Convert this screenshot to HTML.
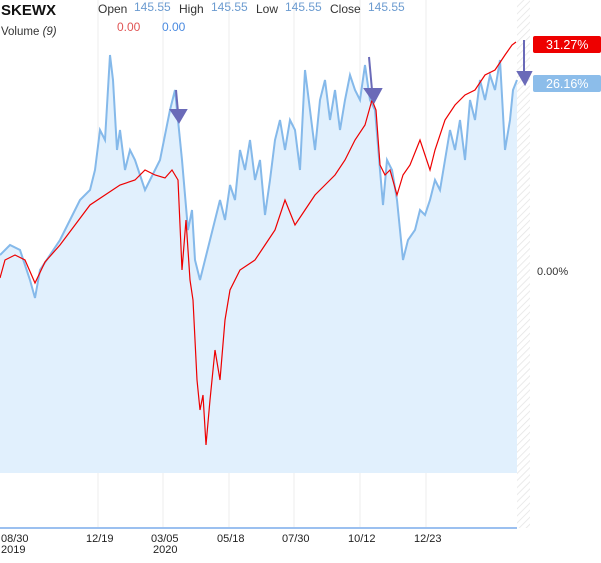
<!DOCTYPE html><html><head><style>body{margin:0;background:#fff;width:601px;height:558px;overflow:hidden;font-family:"Liberation Sans",sans-serif}</style></head><body>
<svg width="601" height="558" xmlns="http://www.w3.org/2000/svg" font-family="Liberation Sans, sans-serif">
<defs><pattern id="h" width="5" height="5" patternUnits="userSpaceOnUse" patternTransform="rotate(45)"><line x1="0" y1="0" x2="0" y2="5" stroke="#e4e4e4" stroke-width="1.5"/></pattern></defs>
<rect x="517" y="0" width="13" height="528" fill="url(#h)"/>
<g stroke="#eeeeee" stroke-width="1"><line x1="98" y1="0" x2="98" y2="528"/><line x1="163" y1="0" x2="163" y2="528"/><line x1="229" y1="0" x2="229" y2="528"/><line x1="294" y1="0" x2="294" y2="528"/><line x1="360" y1="0" x2="360" y2="528"/><line x1="426" y1="0" x2="426" y2="528"/></g>
<polygon fill="#e1f0fd" points="0,473 0,255 10,245 20,250 30,280 35,298 40,270 50,255 60,240 70,220 80,200 90,190 95,170 100,130 105,140 110,55 113,80 117,150 120,130 125,170 130,150 135,160 140,175 145,190 150,180 160,160 170,110 175,90 178,120 182,160 188,230 192,210 195,260 200,280 205,260 210,240 215,220 220,200 225,220 230,185 235,200 240,150 245,170 250,140 255,180 260,160 265,215 270,180 275,140 280,120 285,150 290,120 295,130 300,170 305,70 310,110 315,150 320,100 325,80 330,120 335,90 340,130 345,100 350,75 355,90 360,100 365,65 370,100 375,110 380,170 383,205 387,160 392,170 397,200 400,230 403,260 408,240 415,230 420,210 425,215 430,200 435,180 440,190 445,160 450,130 455,150 460,120 465,160 470,100 475,120 480,80 485,100 490,75 495,90 500,60 505,150 510,120 513,90 517,80 517,473"/>
<polyline fill="none" stroke="#85b9ea" stroke-width="2" points="0,255 10,245 20,250 30,280 35,298 40,270 50,255 60,240 70,220 80,200 90,190 95,170 100,130 105,140 110,55 113,80 117,150 120,130 125,170 130,150 135,160 140,175 145,190 150,180 160,160 170,110 175,90 178,120 182,160 188,230 192,210 195,260 200,280 205,260 210,240 215,220 220,200 225,220 230,185 235,200 240,150 245,170 250,140 255,180 260,160 265,215 270,180 275,140 280,120 285,150 290,120 295,130 300,170 305,70 310,110 315,150 320,100 325,80 330,120 335,90 340,130 345,100 350,75 355,90 360,100 365,65 370,100 375,110 380,170 383,205 387,160 392,170 397,200 400,230 403,260 408,240 415,230 420,210 425,215 430,200 435,180 440,190 445,160 450,130 455,150 460,120 465,160 470,100 475,120 480,80 485,100 490,75 495,90 500,60 505,150 510,120 513,90 517,80"/>
<polyline fill="none" stroke="#ee0000" stroke-width="1.2" points="0,278 5,260 15,255 25,260 35,283 45,262 60,245 75,225 90,205 105,195 120,185 135,180 145,170 155,175 165,178 172,170 178,180 182,270 186,220 190,280 193,300 197,380 200,410 203,395 206,445 210,400 215,350 220,380 225,320 230,290 240,270 255,260 265,245 275,230 285,200 295,225 305,210 315,195 325,185 335,175 345,160 355,140 365,125 372,100 376,110 380,165 385,175 390,170 397,195 403,175 410,165 420,140 430,170 435,150 445,120 455,105 465,95 475,90 485,75 495,70 505,55 512,45 516,42"/>
<g stroke="#6a6ab8" stroke-width="2" fill="#6a6ab8"><line x1="176" y1="90" x2="178" y2="112"/><polygon points="171,110 186,110 179,122"/><line x1="369" y1="57" x2="372" y2="90"/><polygon points="365,89 381,89 374,102"/><line x1="524" y1="40" x2="524" y2="72"/><polygon points="518,72 531,72 525,84"/></g>
<line x1="0" y1="528" x2="517" y2="528" stroke="#9bc0f0" stroke-width="2"/>
<rect x="533" y="36" width="68" height="17" rx="2" fill="#ee0000"/><text x="546" y="49" fill="#fff" font-size="12.5">31.27%</text>
<rect x="533" y="75" width="68" height="17" rx="2" fill="#8cbdea"/><text x="546" y="88" fill="#fff" font-size="12.5">26.16%</text>
<text x="537" y="275" font-size="11" fill="#333">0.00%</text>
<text x="1" y="15" font-size="15" font-weight="bold" fill="#111">SKEWX</text>
<g font-size="12"><text x="98" y="13" fill="#333">Open</text><text x="134" y="11" fill="#6b9bd0">145.55</text><text x="179" y="13" fill="#333">High</text><text x="211" y="11" fill="#6b9bd0">145.55</text><text x="256" y="13" fill="#333">Low</text><text x="285" y="11" fill="#6b9bd0">145.55</text><text x="330" y="13" fill="#333">Close</text><text x="368" y="11" fill="#6b9bd0">145.55</text>
<text x="1" y="35" font-size="11.5" fill="#333">Volume <tspan font-style="italic">(9)</tspan></text><text x="117" y="31" fill="#e05555">0.00</text><text x="162" y="31" fill="#4a8ae0">0.00</text></g>
<g font-size="11" fill="#222"><text x="1" y="542">08/30</text><text x="1" y="553">2019</text><text x="86" y="542">12/19</text><text x="151" y="542">03/05</text><text x="153" y="553">2020</text><text x="217" y="542">05/18</text><text x="282" y="542">07/30</text><text x="348" y="542">10/12</text><text x="414" y="542">12/23</text></g>
</svg></body></html>
